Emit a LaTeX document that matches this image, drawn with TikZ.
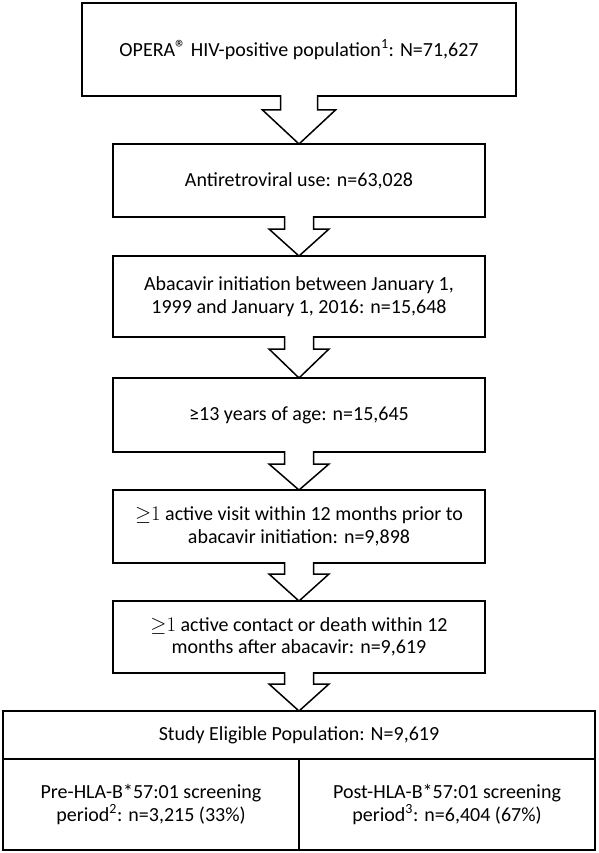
\documentclass[tikz,border=0pt]{standalone}
\usepackage{fontspec}
\setmainfont{Carlito}
\usetikzlibrary{calc}
\newcommand\blockarrow[5]{%
  \filldraw[arrowstyle] let \p1=(#1.south), \p2=(#2.north) in
    ({\x1-#3pt},{\y1+0.9pt}) -- ({\x1-#3pt},{\y1-#5pt}) -- ({\x1-#4pt},{\y1-#5pt})
    -- (\x2,\y2) -- ({\x1+#4pt},{\y1-#5pt}) -- ({\x1+#3pt},{\y1-#5pt}) -- ({\x1+#3pt},{\y1+0.9pt});
}
\newcommand\regmark{\raisebox{0.05em}{\fontsize{22}{22}\selectfont ®}}
\begin{document}
\begin{tikzpicture}[x=1pt,y=-1pt,
  box/.style={draw, line width=1.5pt, inner sep=0pt, outer sep=0pt, align=center,
    font=\fontsize{20}{22.5}\selectfont},
  arrowstyle/.style={draw=black, fill=white, line width=1.5pt, line join=miter}]
\useasboundingbox (0,0) rectangle (598,853);
\fill[white] (0,0) rectangle (598,853);
\node[box, minimum width=434, minimum height=93] (b1) at (299,49.5)
  {OPERA\regmark{} HIV-positive population\textsuperscript{1}: N=71,627};
\node[box, minimum width=372, minimum height=73] (b2) at (299,180.5)
  {Antiretroviral use: n=63,028};
\node[box, minimum width=372, minimum height=81] (b3) at (299,296.5)
  {Abacavir initiation between January 1,\\1999 and January 1, 2016: n=15,648};
\node[box, minimum width=372, minimum height=74] (b4) at (299,415)
  {≥13 years of age: n=15,645};
\node[box, minimum width=372, minimum height=73] (b5) at (299,526.5)
  {${\geq}1$ active visit within 12 months prior to\\abacavir initiation: n=9,898};
\node[box, minimum width=372, minimum height=72] (b6) at (299,637)
  {${\geq}1$ active contact or death within 12\\months after abacavir: n=9,619};
\node[box, minimum width=592, minimum height=48] (b7) at (299,735)
  {Study Eligible Population: N=9,619};
\node[box, minimum width=296, minimum height=91] (b7l) at (151,804.5)
  {Pre-HLA-B*57:01 screening\\period\textsuperscript{2}: n=3,215 (33\%)};
\node[box, minimum width=296, minimum height=91] (b7r) at (447,804.5)
  {Post-HLA-B*57:01 screening\\period\textsuperscript{3}: n=6,404 (67\%)};
\blockarrow{b1}{b2}{18.5}{36.5}{14}
\blockarrow{b2}{b3}{14.5}{30}{12}
\blockarrow{b3}{b4}{14.5}{30}{12}
\blockarrow{b4}{b5}{14.5}{30}{12}
\blockarrow{b5}{b6}{14.5}{30}{11}
\blockarrow{b6}{b7}{14.5}{30}{11}
\end{tikzpicture}
\end{document}
